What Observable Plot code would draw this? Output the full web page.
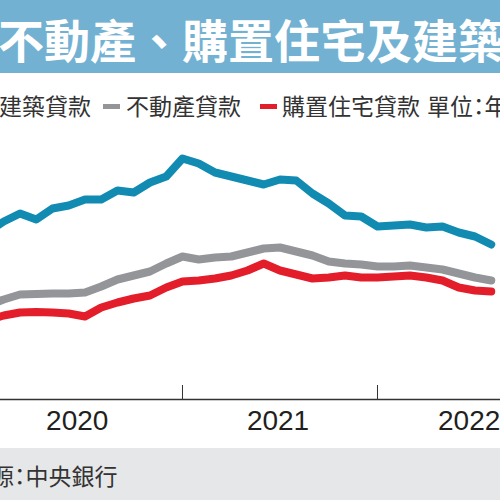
<!DOCTYPE html>
<html>
<head>
<meta charset="utf-8">
<script src="https://cdn.jsdelivr.net/npm/d3@7"></script>
<script src="https://cdn.jsdelivr.net/npm/@observablehq/plot@0.6"></script>
<style>
  html, body { margin: 0; padding: 0; width: 500px; height: 500px; overflow: hidden; background: #fff; }
  #title { position: relative; height: 73px; background: #73b1d2; overflow: hidden; }
  #title span { position: absolute; left: -2px; top: 0; line-height: 76px; font-size: 46px; font-weight: 700; color: #fff; white-space: nowrap; font-family: "Noto Sans CJK TC", sans-serif; }
  #legend { position: relative; height: 62px; overflow: hidden; font-family: "Noto Sans CJK TC", sans-serif; font-size: 23px; color: #333; font-feature-settings: "palt"; }
  #legend .t { position: absolute; top: 21px; line-height: 23px; white-space: nowrap; }
  #legend .sw { position: absolute; top: 31px; width: 17px; height: 5px; }
  #chart svg { display: block; overflow: hidden; }
  #caption { position: relative; height: 52px; background: #e6e7e8; overflow: hidden; font-family: "Noto Sans CJK TC", sans-serif; font-size: 23px; color: #333; font-feature-settings: "palt"; }
  #caption span { position: absolute; left: -78px; top: 16px; line-height: 23px; white-space: nowrap; }
</style>
</head>
<body>
<div id="title"><span>不動產、購置住宅及建築貸款年增率</span></div>
<div id="legend"></div>
<div id="chart"></div>
<div id="caption"><span>資料來源：中央銀行</span></div>
<script>
const months = [
  "2019-12",
  "2020-01","2020-02","2020-03","2020-04","2020-05","2020-06","2020-07","2020-08","2020-09","2020-10","2020-11","2020-12",
  "2021-01","2021-02","2021-03","2021-04","2021-05","2021-06","2021-07","2021-08","2021-09","2021-10","2021-11","2021-12",
  "2022-01","2022-02","2022-03","2022-04","2022-05","2022-06","2022-07"
];
const construction = [9.90,
  10.45,10.85,10.55,11.10,11.25,11.55,11.55,12.00,11.90,12.40,12.70,13.60,
  13.35,12.90,12.70,12.50,12.30,12.55,12.50,11.85,11.35,10.75,10.70,10.20,
  10.25,10.30,10.15,10.20,9.90,9.70,9.30];
const realEstate = [6.25,
  6.55,6.80,6.83,6.85,6.85,6.90,7.20,7.55,7.75,7.95,8.35,8.70,
  8.55,8.65,8.70,8.90,9.10,9.15,8.95,8.75,8.45,8.35,8.30,8.20,
  8.20,8.25,8.15,8.05,7.85,7.65,7.50];
const housing = [5.50,
  5.75,5.90,5.93,5.90,5.85,5.70,6.15,6.40,6.60,6.75,7.15,7.45,
  7.50,7.60,7.75,8.00,8.35,8.00,7.80,7.60,7.65,7.75,7.65,7.65,
  7.70,7.75,7.65,7.50,7.15,7.00,6.95];
const seriesNames = ["建築貸款", "不動產貸款", "購置住宅貸款"];
const seriesColors = ["#118bb2", "#939598", "#e31e2a"];
const yearTicks = [2021, 2022];
const yearLabelPos = [2020.46, 2021.49, 2022.47];
const unitText = "單位：年增率%";

const toX = m => { const [y, mo] = m.split("-").map(Number); return y + mo / 12; };
const series = [construction, realEstate, housing];
const rows = series.map(vals => months.map((m, i) => ({x: toX(m), v: vals[i]})));

// legend
const legend = document.getElementById("legend");
const legendLayout = [{sw: -23, t: -1}, {sw: 103, t: 126}, {sw: 260, t: 282}];
seriesNames.forEach((name, i) => {
  const sw = document.createElement("div");
  sw.className = "sw"; sw.style.left = legendLayout[i].sw + "px"; sw.style.background = seriesColors[i];
  legend.appendChild(sw);
  const t = document.createElement("span");
  t.className = "t"; t.style.left = legendLayout[i].t + "px"; t.textContent = name;
  legend.appendChild(t);
});
const u = document.createElement("span");
u.className = "t"; u.style.left = "427px"; u.textContent = unitText;
legend.appendChild(u);

const yMin = 1.55, yMax = 14.75;
const plot = Plot.plot({
  width: 500,
  height: 313,
  marginTop: 0, marginRight: 0, marginBottom: 49, marginLeft: 0,
  style: {fontFamily: "'Liberation Sans', Arial, sans-serif", background: "transparent"},
  x: {type: "linear", domain: [2020.0667, 2022.6308], label: null},
  y: {domain: [yMin, yMax], axis: null},
  marks: [
    Plot.ruleY([yMin], {stroke: "#333", strokeWidth: 1.5}),
    Plot.ruleX(yearTicks, {y1: yMin, y2: yMin + 0.7, stroke: "#333", strokeWidth: 1}),
    Plot.axisX(yearLabelPos, {anchor: "bottom", label: null, tickSize: 0, tickPadding: 11, fontSize: 28, fill: "#231f20", tickFormat: d => String(Math.floor(d))}),
    ...rows.map((r, i) => Plot.line(r, {x: "x", y: "v", stroke: seriesColors[i], strokeWidth: 8, clip: true, strokeLinejoin: "round", strokeLinecap: "round"}))
  ]
});
document.getElementById("chart").appendChild(plot);
</script>
</body>
</html>
